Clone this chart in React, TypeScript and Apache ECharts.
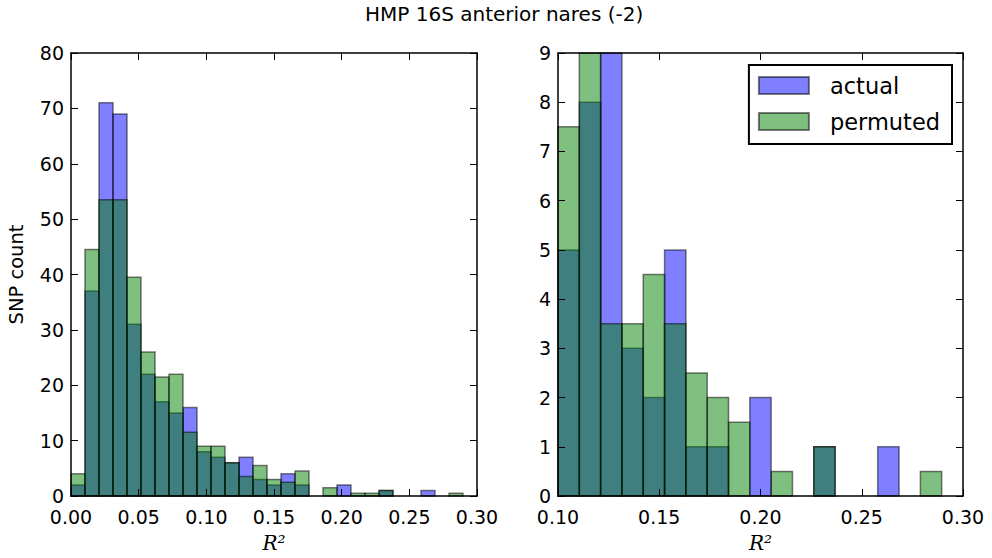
import React, { useEffect, useRef } from "react";
import * as echarts from "echarts";

// Left panel: 29 equal bins over [0, 0.30]
const leftRange = [0, 0.3];
const leftActual = [2, 37, 71, 69, 31, 22, 17, 15, 16, 8, 7, 6, 7, 3, 2, 4, 2, 0, 0, 2, 0, 0, 1, 0, 0, 1, 0, 0, 0];
const leftPermuted = [4, 44.5, 53.5, 53.5, 39.5, 26, 21.5, 22, 11.5, 9, 9, 6, 3.5, 5.5, 3, 2.5, 4.5, 0, 1.5, 0, 0.5, 0.5, 1, 0, 0, 0, 0, 0.5, 0];

// Right panel: 19 equal bins over [0.10, 0.30]
const rightRange = [0.1, 0.3];
const rightActual = [5, 8, 10, 3, 2, 5, 1, 1, 0, 2, 0, 0, 1, 0, 0, 1, 0, 0, 0];
const rightPermuted = [7.5, 10, 3.5, 3.5, 4.5, 3.5, 2.5, 2, 1.5, 0, 0.5, 0, 1, 0, 0, 0, 0, 0.5, 0];

const seriesNames = ["actual", "permuted"];
const leftYTicks = { min: 0, max: 80, interval: 10 };
const rightYTicks = { min: 0, max: 9, interval: 1 };
const xTickInterval = 0.05;

const FONT = "DejaVu Sans";
const ACTUAL_FILL = "rgba(0,0,255,0.5)";
const PERM_FILL = "rgba(0,128,0,0.5)";
const EDGE = "rgba(0,0,0,0.5)";

function binData(range: number[], counts: number[]) {
  const n = counts.length;
  const w = (range[1] - range[0]) / n;
  return counts.map((c, i) => [range[0] + i * w, range[0] + (i + 1) * w, c]);
}

function renderBar(fill: string) {
  return (params: any, api: any) => {
    const v = api.value(2);
    if (!v) return null;
    const p0 = api.coord([api.value(0), v]);
    const p1 = api.coord([api.value(1), 0]);
    const cs = params.coordSys;
    const rect = echarts.graphic.clipRectByRect(
      { x: p0[0], y: p0[1], width: p1[0] - p0[0], height: p1[1] - p0[1] },
      { x: cs.x, y: cs.y, width: cs.width, height: cs.height }
    );
    if (!rect) return null;
    return {
      type: "rect",
      shape: rect,
      style: { fill, stroke: EDGE, lineWidth: 1.5 },
    };
  };
}

const tickLabel = (v: number) => v.toFixed(2);

function xAxes(gridIndex: number, range: number[]) {
  const base = {
    type: "value",
    gridIndex,
    min: range[0],
    max: range[1],
    interval: xTickInterval,
    splitLine: { show: false },
    axisLine: { show: true, onZero: false, lineStyle: { color: "#000", width: 1.5 } },
    axisTick: { show: true, inside: true, length: 7, lineStyle: { color: "#000", width: 1 } },
    z: 10,
  };
  return [
    {
      ...base,
      position: "bottom",
      axisLabel: { formatter: tickLabel, color: "#000", fontSize: 19, fontFamily: FONT, margin: 11 },
      name: "R²",
      nameLocation: "middle",
      nameGap: 37,
      nameTextStyle: { color: "#000", fontSize: 20, fontFamily: "DejaVu Serif", fontStyle: "italic" },
    },
    { ...base, position: "top", axisLabel: { show: false } },
  ];
}

function yAxes(gridIndex: number, t: { min: number; max: number; interval: number }, name?: string) {
  const base = {
    type: "value",
    gridIndex,
    min: t.min,
    max: t.max,
    interval: t.interval,
    splitLine: { show: false },
    axisLine: { show: true, onZero: false, lineStyle: { color: "#000", width: 1.5 } },
    axisTick: { show: true, inside: true, length: 7, lineStyle: { color: "#000", width: 1 } },
    z: 10,
  };
  const left: any = {
    ...base,
    position: "left",
    axisLabel: { color: "#000", fontSize: 19, fontFamily: FONT, margin: 7 },
  };
  if (name) {
    left.name = name;
    left.nameLocation = "middle";
    left.nameGap = 45;
    left.nameTextStyle = { color: "#000", fontSize: 19.5, fontFamily: FONT };
  }
  return [left, { ...base, position: "right", axisLabel: { show: false } }];
}

export default function App() {
  const ref = useRef<HTMLDivElement>(null);
  useEffect(() => {
    document.body.style.margin = "0";
    const chart = echarts.init(ref.current!, undefined, { renderer: "svg" });
    const option: any = {
      animation: false,
      backgroundColor: "#fff",
      title: {
        text: "HMP 16S anterior nares (-2)",
        left: 365,
        top: 4,
        padding: 0,
        textStyle: { color: "#000", fontSize: 20, fontWeight: "normal", fontFamily: FONT },
      },
      legend: {
        right: 992 - 952,
        top: 65,
        orient: "vertical",
        data: [
          { name: seriesNames[0], itemStyle: { color: ACTUAL_FILL, borderColor: EDGE, borderWidth: 2 } },
          { name: seriesNames[1], itemStyle: { color: PERM_FILL, borderColor: EDGE, borderWidth: 2 } },
        ],
        icon: "rect",
        itemWidth: 50,
        itemHeight: 17,
        itemGap: 13,
        padding: [9, 12, 11, 9],
        borderColor: "#000",
        borderWidth: 2,
        borderRadius: 0,
        backgroundColor: "#fff",
        textStyle: { color: "#000", fontSize: 22.5, fontFamily: FONT, lineHeight: 22, padding: [0, 0, 0, 16] },
        z: 20,
      },
      grid: [
        { left: 71, top: 53, width: 406, height: 446 },
        { left: 558, top: 53, width: 405, height: 446 },
      ],
      xAxis: [...xAxes(0, leftRange), ...xAxes(1, rightRange)],
      yAxis: [...yAxes(0, leftYTicks, "SNP count"), ...yAxes(1, rightYTicks)],
      series: [
        {
          name: seriesNames[0], type: "custom", xAxisIndex: 0, yAxisIndex: 0,
          itemStyle: { color: ACTUAL_FILL }, renderItem: renderBar(ACTUAL_FILL),
          encode: { x: [0, 1], y: 2 }, data: binData(leftRange, leftActual), z: 2,
        },
        {
          name: seriesNames[1], type: "custom", xAxisIndex: 0, yAxisIndex: 0,
          itemStyle: { color: PERM_FILL }, renderItem: renderBar(PERM_FILL),
          encode: { x: [0, 1], y: 2 }, data: binData(leftRange, leftPermuted), z: 3,
        },
        {
          name: seriesNames[0], type: "custom", xAxisIndex: 2, yAxisIndex: 2,
          itemStyle: { color: ACTUAL_FILL }, renderItem: renderBar(ACTUAL_FILL),
          encode: { x: [0, 1], y: 2 }, data: binData(rightRange, rightActual), z: 2,
        },
        {
          name: seriesNames[1], type: "custom", xAxisIndex: 2, yAxisIndex: 2,
          itemStyle: { color: PERM_FILL }, renderItem: renderBar(PERM_FILL),
          encode: { x: [0, 1], y: 2 }, data: binData(rightRange, rightPermuted), z: 3,
        },
      ],
    };
    chart.setOption(option);
    return () => chart.dispose();
  }, []);
  return <div ref={ref} style={{ width: 992, height: 558 }} />;
}
